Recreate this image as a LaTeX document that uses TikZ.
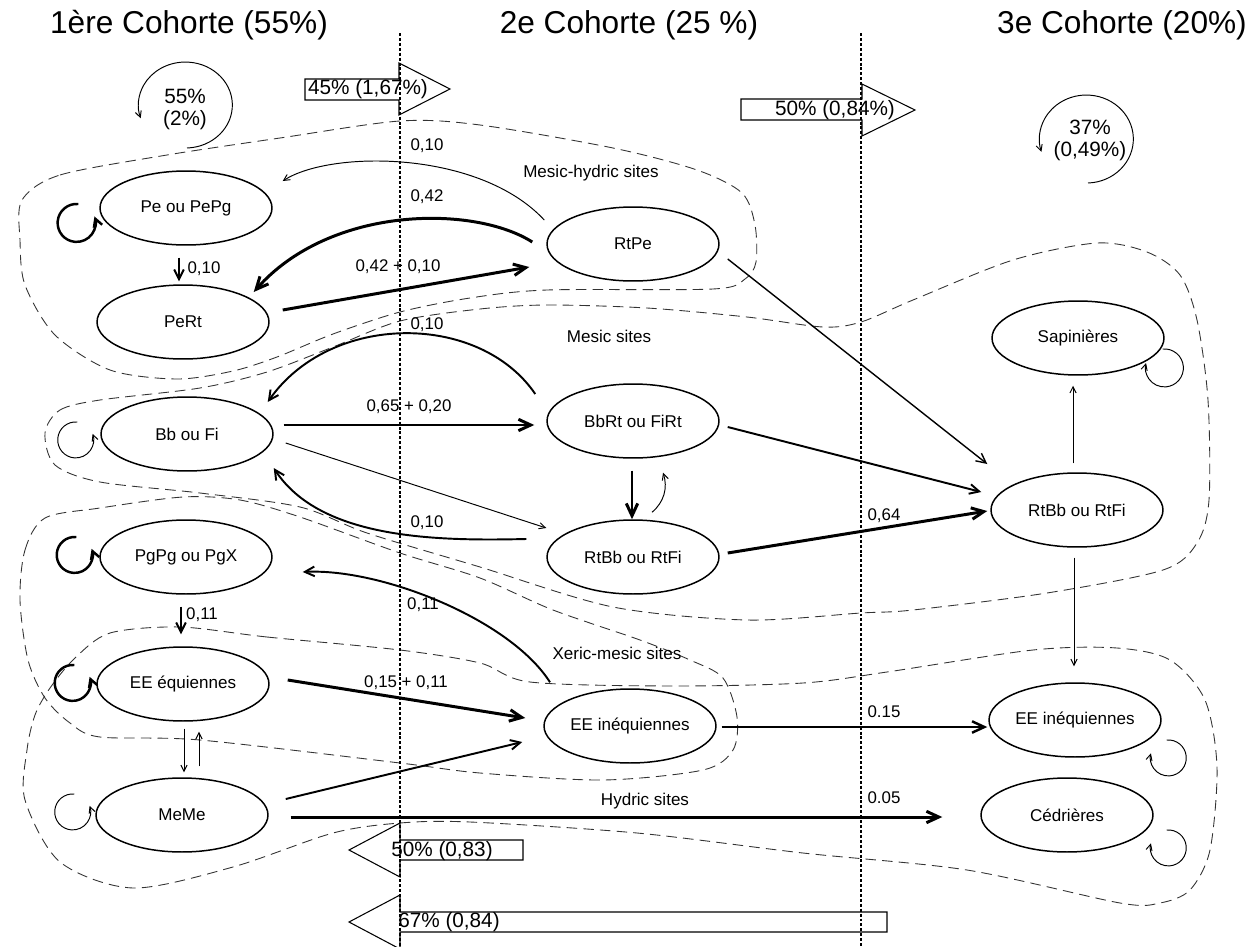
\documentclass[tikz,border=0pt]{standalone}
\usepackage{fontspec}
\setmainfont{Liberation Sans}
\usetikzlibrary{shapes.geometric, arrows.meta, calc}

\begin{document}
\begin{tikzpicture}[x=0.02cm, y=-0.02cm,
    state/.style={ellipse, draw=black, line width=0.85pt, minimum width=3.44cm, minimum height=1.48cm, inner sep=0pt, font=\fontsize{9.7}{11}\selectfont},
    lbl/.style={inner sep=0pt, font=\fontsize{9.6}{11}\selectfont},
    site/.style={inner sep=0pt, font=\fontsize{9.7}{11}\selectfont},
    cohort/.style={inner sep=0pt, anchor=base, font=\fontsize{18}{21}\selectfont},
    share/.style={inner sep=0pt, align=center, font=\fontsize{11.8}{12.5}\selectfont},
    blockarrow/.style={draw=black, line width=0.6pt, fill=white},
    zone/.style={draw=black!80, line width=0.5pt, dash pattern=on 6pt off 3.5pt},
    divider/.style={line width=1.1pt, dash pattern=on 1.7pt off 1.1pt},
    thickarrow/.style={line width=1.7pt, -{Straight Barb[length=7pt, width=6.5pt]}},
    looparrow/.style={line width=1.4pt, -{Straight Barb[length=4.5pt, width=5pt]}},
    midarrow/.style={line width=1.1pt, -{Straight Barb[length=5.5pt, width=5.5pt]}},
    thinarrow/.style={line width=0.55pt, -{Straight Barb[length=3.5pt, width=3.5pt]}}
    ]
    \useasboundingbox (0,0) rectangle (1249,947);

    \draw [zone] plot [smooth cycle] coordinates {(22,200) (60,175) (167,155) (280,138) (400,121) (480,125) (613,148) (697,170) (742,193) (755,225) (756,262) (745,279) (713,289) (547,290) (470,298) (400,312) (333,334) (277,357) (233,371) (177,379) (110,370) (55,335) (25,285) (20,240)};
    \draw [zone] plot [smooth cycle] coordinates {(45,433) (60,410) (100,400) (200,388) (267,372) (333,347) (400,321) (480,309) (547,305) (647,308) (747,317) (823,327) (861,322) (913,300) (1013,260) (1097,243) (1147,252) (1180,275) (1197,320) (1208,400) (1209,500) (1197,543) (1163,570) (1047,593) (913,610) (861,613) (747,620) (613,607) (480,567) (367,533) (300,507) (200,493) (100,482) (55,465)};
    \draw [zone] plot [smooth cycle] coordinates {(20,600) (25,550) (45,518) (100,508) (183,497) (240,500) (300,517) (400,553) (480,578) (553,610) (640,640) (690,660) (723,678) (737,717) (733,750) (703,770) (603,780) (480,773) (400,763) (200,740) (100,737) (70,723) (45,698) (28,660)};
    \draw [zone] plot [smooth cycle] coordinates {(180,627) (267,637) (400,650) (480,663) (530,682) (670,686) (803,683) (887,672) (1033,650) (1117,648) (1170,660) (1205,700) (1217,767) (1210,850) (1190,890) (1160,903) (1120,903) (967,870) (803,853) (637,833) (470,822) (400,823) (333,833) (233,867) (133,888) (60,862) (25,800) (27,750) (35,715) (50,688) (75,658) (110,633)};

    \node (t1) [cohort] at (189,33) {1ère Cohorte (55\%)};
    \node (t2) [cohort] at (629,33) {2e Cohorte (25 \%)};
    \node (t3) [cohort] at (1122,33) {3e Cohorte (20\%)};

    \node (pe) [state] at (186,208) {Pe ou PePg};
    \node (pert) [state] at (183,322) {PeRt};
    \node (rtpe) [state] at (633,244) {RtPe};
    \node (bb) [state] at (187,434) {Bb ou Fi};
    \node (bbrt) [state] at (633,421) {BbRt ou FiRt};
    \node (rtbbm) [state] at (633,557) {RtBb ou RtFi};
    \node (pg) [state] at (186,557) {PgPg ou PgX};
    \node (eeq) [state] at (183,684) {EE équiennes};
    \node (meme) [state] at (182,815) {MeMe};
    \node (eeim) [state] at (630,726) {EE inéquiennes};
    \node (sap) [state] at (1078,338) {Sapinières};
    \node (rtbbr) [state] at (1077,510) {RtBb ou RtFi};
    \node (eeir) [state] at (1075,720) {EE inéquiennes};
    \node (ced) [state] at (1067,815) {Cédrières};

    \node (mh) [site] at (591,173) {Mesic-hydric sites};
    \node (ms) [site] at (609,336) {Mesic sites};
    \node (xm) [site] at (617,653) {Xeric-mesic sites};
    \node (hy) [site] at (645,801) {Hydric sites};

    \draw [midarrow] ($(pe.south)+(-7,12)$) -- ($(pert.north)+(-4,-3)$);
    \draw [thinarrow] ($(rtpe.west)+(-2,-24)$) .. controls +(-65,-70) and +(48,-31) .. ($(pe.east)+(10,-27)$);
    \draw [thickarrow] ($(rtpe.west)+(-14,-2)$) .. controls +(-58,-37) and +(77,-87) .. ($(pert.east)+(-16,-30)$);
    \draw [thickarrow] ($(pert.east)+(13,-12)$) -- ($(rtpe.west)+(-17,23)$);

    \draw [midarrow] ($(bbrt.west)+(-11,-27)$) .. controls +(-56,-82) and +(63,-90) .. ($(bb.east)+(-6,-32)$);
    \draw [thickarrow] ($(bb.east)+(10,-9)$) -- ($(bbrt.west)+(-12,4)$);
    \draw [thinarrow] ($(bb.east)+(12,9)$) -- ($(rtbbm.west)+(0,-29)$);
    \draw [midarrow] ($(rtbbm.west)+(-20,-18)$) .. controls +(-87,2) and +(47,72) .. ($(bb.east)+(0,34)$);
    \draw [thickarrow] ($(bbrt.south)+(-1,12)$) -- ($(rtbbm.north)+(-1,0)$);
    \draw [thinarrow] ($(rtbbm.north)+(19,-7)$) .. controls +(12,-10) and +(5,15) .. ($(bbrt.south)+(30,14)$);
    \draw [midarrow, line width=0.8pt] ($(rtpe.east)+(8,15)$) -- ($(rtbbr.west)+(-3,-46)$);
    \draw [midarrow] ($(bbrt.east)+(8,6)$) -- ($(rtbbr.west)+(-9,-18)$);
    \draw [thickarrow] ($(rtbbm.east)+(8,-4)$) -- ($(rtbbr.west)+(-3,1)$);
    \draw [thinarrow] ($(rtbbr.north)+(-4,-9)$) -- ($(sap.south)+(-5,10)$);
    \draw [thinarrow] ($(rtbbr.south)+(-3,10)$) -- ($(eeir.north)+(-1,-16)$);

    \draw [midarrow] ($(pg.south)+(-5,12)$) -- ($(eeq.north)+(-2,-12)$);
    \draw [thinarrow] ($(eeq.south)+(1,7)$) -- ($(meme.north)+(2,-5)$);
    \draw [thinarrow] ($(meme.north)+(17,-11)$) -- ($(eeq.south)+(16,10)$);
    \draw [thickarrow] ($(eeq.east)+(18,-4)$) -- ($(eeim.west)+(-18,-8)$);
    \draw [midarrow] ($(meme.east)+(17,-16)$) -- ($(eeim.west)+(-21,16)$);
    \draw [midarrow] ($(eeim.north)+(-80,-6)$) .. controls +(-40,-63) and +(78,-4) .. ($(pg.east)+(30,15)$);
    \draw [thickarrow, line width=1.4pt] ($(eeim.east)+(5,1)$) -- ($(eeir.west)+(-1,7)$);
    \draw [thickarrow] ($(meme.east)+(22,2)$) -- ($(ced.west)+(-38,2)$);

    \draw [looparrow] ($(pe.west)+(-21,-4)$) arc [start angle=85, end angle=380, radius=0.38cm];
    \draw [thinarrow] ($(bb.west)+(-23,-12)$) arc [start angle=85, end angle=380, radius=0.36cm];
    \draw [looparrow] ($(pg.west)+(-23,-20)$) arc [start angle=85, end angle=380, radius=0.36cm];
    \draw [looparrow] ($(eeq.west)+(-22,-19)$) arc [start angle=85, end angle=380, radius=0.36cm];
    \draw [thinarrow] ($(meme.west)+(-21,-21)$) arc [start angle=85, end angle=380, radius=0.36cm];
    \draw [thinarrow] ($(sap.east)+(-2,11)$) arc [start angle=95, end angle=-195, radius=0.38cm];
    \draw [thinarrow] ($(eeir.east)+(5,20)$) arc [start angle=95, end angle=-195, radius=0.36cm];
    \draw [thinarrow] ($(ced.east)+(13,15)$) arc [start angle=95, end angle=-195, radius=0.36cm];

    \node (l1) [lbl] at (427,146) {0,10};
    \node (l2) [lbl] at (427,197) {0,42};
    \node (l3) [lbl] at (398,267) {0,42 + 0,10};
    \node (l4) [lbl] at (204,269) {0,10};
    \node (l5) [lbl] at (427,325) {0,10};
    \node (l6) [lbl] at (409,407) {0,65 + 0,20};
    \node (l7) [lbl] at (427,523) {0,10};
    \node (l8) [lbl] at (884,516) {0,64};
    \node (l9) [lbl] at (202,615) {0,11};
    \node (l10) [lbl] at (423,605) {0,11};
    \node (l11) [lbl] at (406,683) {0,15 + 0,11};
    \node (l12) [lbl] at (884,712) {0.15};
    \node (l13) [lbl] at (884,798) {0.05};

    \node (c55) [share] at (185,109) {55\%\\(2\%)};
    \draw [thinarrow] ($(c55)+(2,39)$) arc [start angle=-88, end angle=198, x radius=0.94cm, y radius=0.86cm];
    \node (c37) [share] at (1090,140) {37\%\\(0,49\%)};
    \draw [thinarrow] ($(c37)+(-2,43)$) arc [start angle=-88, end angle=197, x radius=0.94cm, y radius=0.88cm];

    \draw [blockarrow] (305,79) -- (399,79) -- (399,63) -- (450,89) -- (399,115) -- (399,100) -- (305,100) -- cycle;
    \node (s45) [share] at (368,89) {45\% (1,67\%)};
    \draw [blockarrow] (741,99) -- (862,99) -- (862,84) -- (915,110) -- (862,136) -- (862,120) -- (741,120) -- cycle;
    \node (s50a) [share] at (835,110) {50\% (0,84\%)};
    \draw [blockarrow] (523,840) -- (400,840) -- (400,823) -- (349,850) -- (400,877) -- (400,860) -- (523,860) -- cycle;
    \node (s50b) [share] at (442,851) {50\% (0,83)};
    \draw [blockarrow] (887,912) -- (400,912) -- (400,895) -- (349,922) -- (400,949) -- (400,932) -- (887,932) -- cycle;
    \node (s67) [share] at (449,922) {67\% (0,84)};

    \draw [divider] (400,33) -- (400,947);
    \draw [divider] (861,33) -- (861,947);
\end{tikzpicture}
\end{document}
